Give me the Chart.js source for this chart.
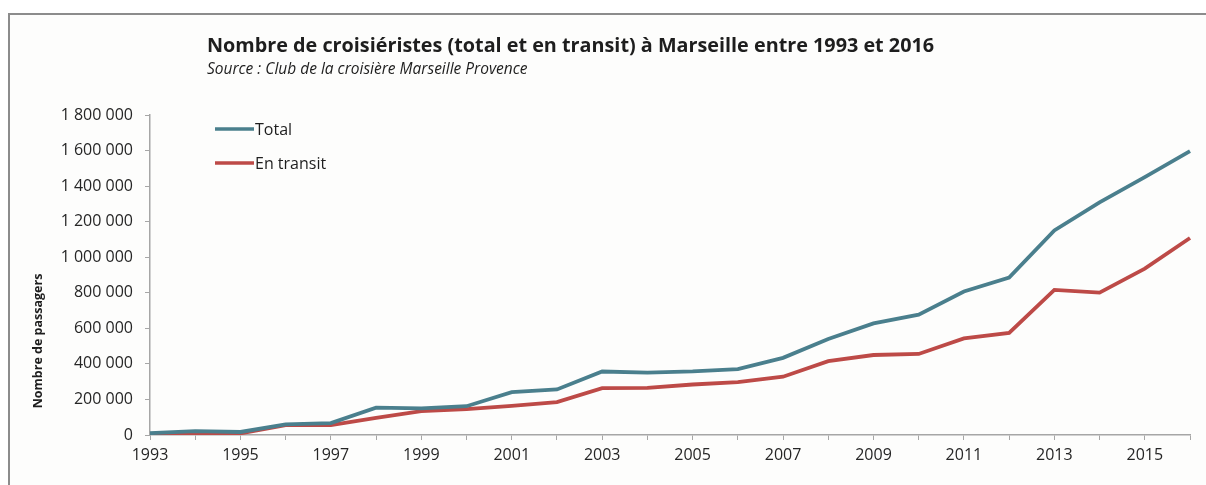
<!DOCTYPE html>
<html lang="fr">
<head>
<meta charset="UTF-8">
<title>Croisiéristes à Marseille 1993-2016</title>
<script src="https://cdn.jsdelivr.net/npm/chart.js"></script>
<style>
  html, body { margin: 0; padding: 0; background: #fff; overflow: hidden; }
  #frame { position: absolute; left: 8px; top: 13px; width: 1300px; height: 600px;
           border-top: 2px solid #8c8c8c; border-left: 2px solid #8c8c8c; background: #fdfdfc; }
  #wrap { position: absolute; left: 0; top: 0; width: 1206px; height: 485px; }
</style>
</head>
<body>
<div id="frame"></div>
<div id="wrap"><canvas id="chart" width="1206" height="485"></canvas></div>

<script>
// données
const annees = ['1993','1994','1995','1996','1997','1998','1999','2000','2001','2002','2003','2004',
                '2005','2006','2007','2008','2009','2010','2011','2012','2013','2014','2015','2016'];
const total = [10000, 22000, 17000, 60000, 67000, 154000, 150000, 162000, 241000, 256000, 357000, 351000,
               358000, 371000, 434000, 540000, 628000, 677000, 807000, 886000, 1151000, 1309000, 1451000, 1597000];
const enTransit = [4000, 10000, 9000, 55000, 56000, 97000, 134000, 145000, 164000, 185000, 264000, 265000,
                   284000, 298000, 328000, 415000, 450000, 456000, 543000, 574000, 816000, 801000, 936000, 1108000];
const yTicks = [0, 200000, 400000, 600000, 800000, 1000000, 1200000, 1400000, 1600000, 1800000];

const titre = 'Nombre de croisiéristes (total et en transit) à Marseille entre 1993 et 2016';
const sousTitre = 'Source : Club de la croisière Marseille Provence';
const titreAxeY = 'Nombre de passagers';

const FONT = '"Open Sans", Lato, sans-serif';
const bleu = '#4a7f8d';
const rouge = '#bd4a47';

function formatNombre(v) {
  return String(v).replace(/\B(?=(\d{3})+(?!\d))/g, ' ');
}

// titre, source, légende et titre d'axe dessinés à la main (positions comme sur l'original)
const decor = {
  id: 'decor',
  afterDraw(chart) {
    const ctx = chart.ctx;
    ctx.save();
    ctx.fillStyle = '#1e1e1e';
    ctx.textBaseline = 'alphabetic';
    ctx.textAlign = 'left';
    ctx.font = 'bold 19.8px ' + FONT;
    ctx.fillText(titre, 207, 52);
    ctx.font = 'italic 15.5px ' + FONT;
    ctx.fillText(sousTitre, 207, 74);

    // légende
    ctx.font = '16px ' + FONT;
    chart.data.datasets.forEach((ds, i) => {
      const y = 129 + i * 34;
      ctx.strokeStyle = ds.borderColor;
      ctx.lineWidth = 3.5;
      ctx.beginPath();
      ctx.moveTo(215, y);
      ctx.lineTo(254, y);
      ctx.stroke();
      ctx.fillStyle = '#1e1e1e';
      ctx.textBaseline = 'middle';
      ctx.fillText(ds.label, 255, y + 1);
    });

    // titre de l'axe y
    ctx.translate(38, 341);
    ctx.rotate(-Math.PI / 2);
    ctx.textAlign = 'center';
    ctx.textBaseline = 'middle';
    ctx.font = 'bold 12.5px ' + FONT;
    ctx.fillText(titreAxeY, 0, 0);
    ctx.restore();
  }
};

new Chart(document.getElementById('chart'), {
  type: 'line',
  data: {
    labels: annees,
    datasets: [
      { label: 'Total', data: total, borderColor: bleu, borderWidth: 3.8, pointRadius: 0, tension: 0 },
      { label: 'En transit', data: enTransit, borderColor: rouge, borderWidth: 3.8, pointRadius: 0, tension: 0 }
    ]
  },
  options: {
    responsive: false,
    animation: false,
    layout: { padding: { top: 115, left: 10, right: 16, bottom: 0 } },
    plugins: {
      legend: { display: false },
      title: { display: false },
      tooltip: { enabled: false }
    },
    scales: {
      x: {
        type: 'category',
        offset: false,
        afterFit(scale) { scale.height = 50; },
        grid: { display: true, drawOnChartArea: false, drawTicks: true, tickLength: 5, color: '#a6a6a6' },
        border: { color: '#a6a6a6', width: 1.5 },
        ticks: {
          autoSkip: false, maxRotation: 0, padding: 6,
          color: '#262626', font: { family: FONT, size: 16 },
          callback(v, i) { return i % 2 === 0 ? annees[i] : ''; }
        }
      },
      y: {
        min: 0,
        max: 1800000,
        afterFit(scale) { scale.width = 140; },
        afterBuildTicks(scale) { scale.ticks = yTicks.map(v => ({ value: v })); },
        grid: { display: true, drawOnChartArea: false, drawTicks: true, tickLength: 5, color: '#a6a6a6' },
        border: { color: '#a6a6a6', width: 1.5 },
        ticks: {
          padding: 12,
          color: '#262626', font: { family: FONT, size: 16 },
          callback(v) { return formatNombre(v); }
        }
      }
    }
  },
  plugins: [decor]
});
</script>
</body>
</html>
